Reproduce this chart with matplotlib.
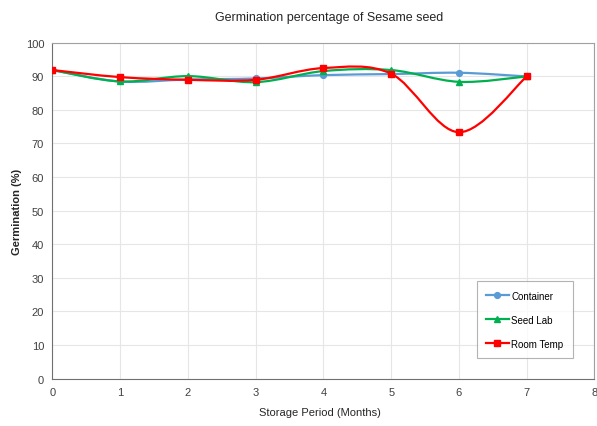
import numpy as np
import matplotlib.pyplot as plt
from matplotlib.path import Path
from matplotlib.patches import PathPatch
from matplotlib.lines import Line2D

plt.rcParams['font.family'] = ['Liberation Sans', 'DejaVu Sans']

months = [0, 1, 2, 3, 4, 5, 6, 7]
container = [91.8, 88.4, 89.0, 89.3, 90.3, 90.6, 91.0, 89.9]
seed_lab = [91.8, 88.4, 90.0, 88.2, 91.5, 91.8, 88.3, 89.9]
room_temp = [91.8, 89.7, 88.9, 88.9, 92.4, 90.7, 73.3, 89.9]


def smooth_path(x, y):
    # excel-like smoothed line: cubic bezier through every point
    pts = np.column_stack([x, y]).astype(float)
    ext = np.vstack([pts[0], pts, pts[-1]])
    verts = [pts[0]]
    codes = [Path.MOVETO]
    for i in range(len(pts) - 1):
        p0, p1, p2, p3 = ext[i], ext[i + 1], ext[i + 2], ext[i + 3]
        c1 = p1 + (p2 - p0) / 6
        c2 = p2 - (p3 - p1) / 6
        verts += [c1, c2, p2]
        codes += [Path.CURVE4] * 3
    return Path(verts, codes)


fig = plt.figure(figsize=(5.97, 4.27), dpi=100)
ax = fig.add_axes([0.0879, 0.1112, 0.9079, 0.7869])

series = [
    ('Container', container, '#5b9bd5', 'o', 4.2),
    ('Seed Lab', seed_lab, '#00b050', '^', 4.5),
    ('Room Temp', room_temp, '#ff0000', 's', 5),
]

handles = []
for z, (name, vals, col, mk, ms) in enumerate(series):
    patch = PathPatch(smooth_path(months, vals), facecolor='none', edgecolor=col,
                      lw=1.6, zorder=3 + z)
    ax.add_patch(patch)
    ax.plot(months, vals, linestyle='none', marker=mk, color=col, ms=ms, zorder=3 + z)
    handles.append(Line2D([], [], color=col, marker=mk, ms=ms, lw=1.6, label=name))

ax.set_xlim(0, 8)
ax.set_ylim(0, 100)
ax.set_xticks(range(0, 9))
ax.set_yticks(range(0, 101, 10))
ax.grid(True, color='#e6e6e6', lw=0.8)
ax.set_axisbelow(True)
ax.tick_params(length=0, labelsize=8, colors='#404040', pad=6)
for s in ax.spines.values():
    s.set_color('#a0a0a0')
ax.spines['left'].set_color('#707070')
ax.spines['bottom'].set_color('#707070')

leg = ax.legend(handles=handles, loc='lower right', bbox_to_anchor=(0.96, 0.061),
                borderaxespad=0, fontsize=7, frameon=True, fancybox=False,
                edgecolor='#a0a0a0', handlelength=2.3, handletextpad=0.3,
                labelspacing=1.45, borderpad=0.95)
leg.get_frame().set_linewidth(0.8)

fig.text(329 / 597, 1 - 18 / 427, 'Germination percentage of Sesame seed',
         ha='center', va='center', fontsize=9, color='#262626')
fig.text(320 / 597, 1 - 413 / 427, 'Storage Period (Months)',
         ha='center', va='center', fontsize=8, color='#262626')
fig.text(17 / 597, 1 - 212 / 427, 'Germination (%)', rotation=90,
         ha='center', va='center', fontsize=8, color='#262626', fontweight='bold')

fig.savefig('out.png', dpi=100)
